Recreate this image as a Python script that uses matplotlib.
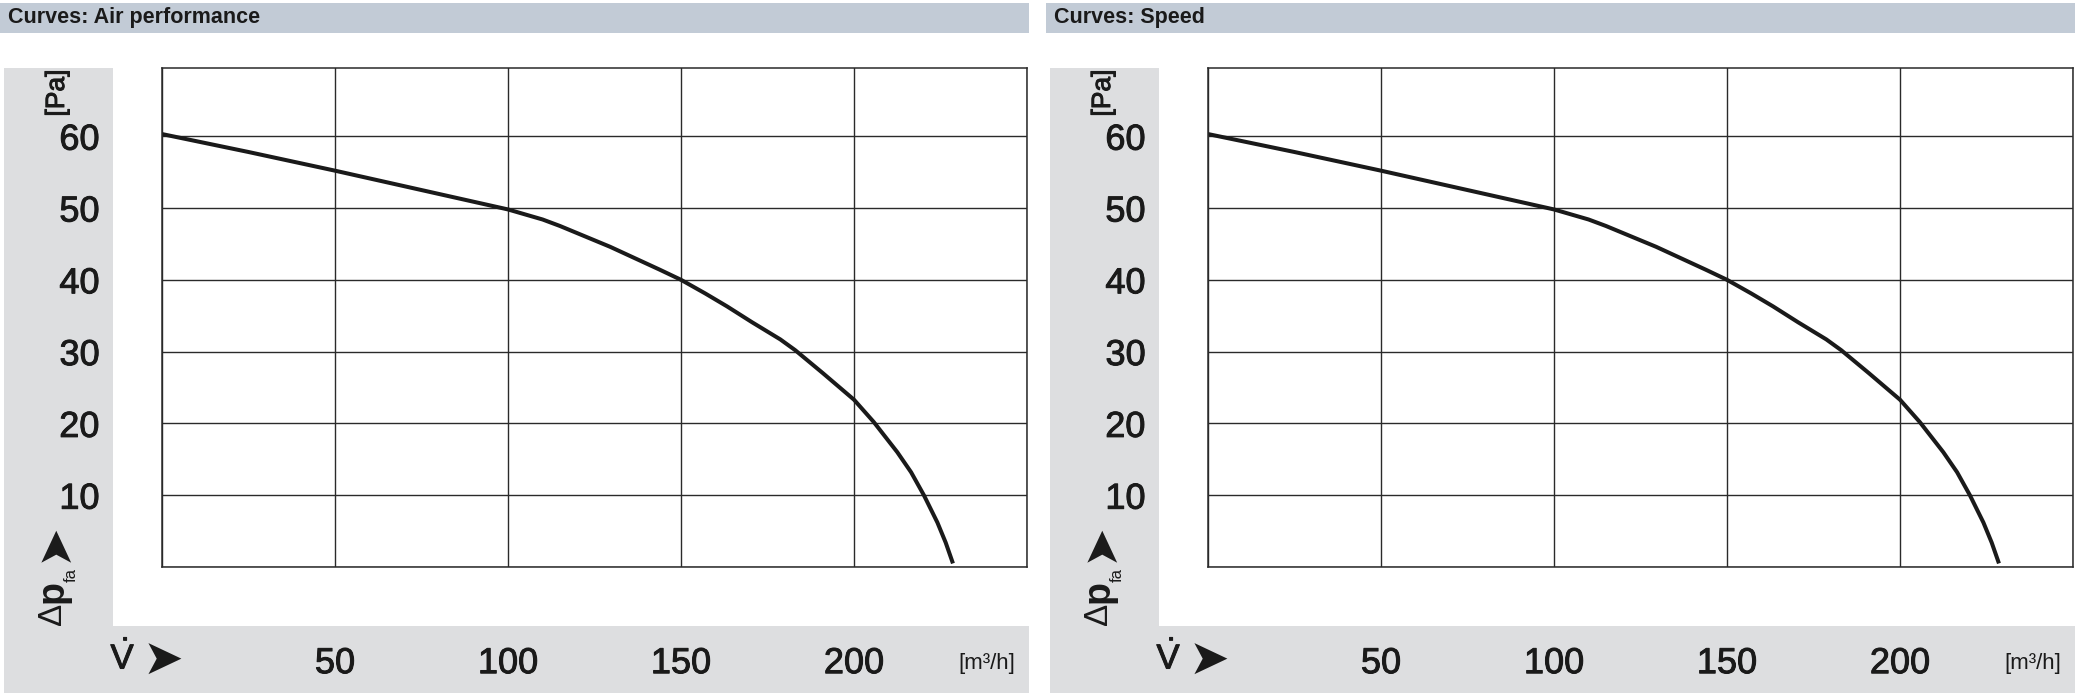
import matplotlib.pyplot as plt
from matplotlib.patches import Rectangle
import matplotlib.patheffects as pe

W, H = 2082, 698

# air performance curve (flow in m3/h, pressure in Pa)
flow = [0, 25, 50, 75, 100, 110, 115, 129.5, 143.9, 150, 157, 163.3, 170.5, 178.7,
        183, 191, 200, 205.7, 212.5, 216.5, 220.2, 224.1, 226.5, 228.6]
pressure = [60.3, 57.8, 55.2, 52.5, 49.8, 48.4, 47.5, 44.6, 41.4, 40.0, 38.1, 36.3, 34.1, 31.7,
            30.2, 27.0, 23.3, 20.2, 16.0, 13.2, 10.0, 6.2, 3.4, 0.5]

x_ticks = [50, 100, 150, 200]
y_ticks = [10, 20, 30, 40, 50, 60]
x_grid = [0, 50, 100, 150, 200, 250]
titles = ['Curves: Air performance', 'Curves: Speed']

BAR = '#c2cbd6'
GRAY = '#dddee0'
INK = '#1a1a1a'
plt.rcParams['font.family'] = ['Liberation Sans', 'DejaVu Sans']
plt.rcParams['mathtext.fontset'] = 'custom'
plt.rcParams['mathtext.rm'] = 'Liberation Sans'
heavy = [pe.withStroke(linewidth=0.7, foreground=INK)]


def fx(px):
    return px / W


def fy(py):
    return 1 - py / H


def rect(fig, x0, y0, x1, y1, color):
    fig.patches.append(Rectangle((fx(x0), fy(y1)), fx(x1) - fx(x0), fy(y0) - fy(y1),
                                 transform=fig.transFigure, color=color, zorder=-5, lw=0))


def label(fig, x, y, s, size, **kw):
    kw.setdefault('ha', 'center')
    kw.setdefault('va', 'center')
    return fig.text(fx(x), fy(y), s, fontsize=size, color=INK, **kw)


def panel(fig, dx, title):
    # title bar
    rect(fig, dx + 0, 3, dx + 1029, 33, BAR)
    label(fig, dx + 8, 18, title, 15.5, fontweight='bold', ha='left')

    # grey L shaped band behind the scales
    rect(fig, dx + 4, 68, dx + 113, 693, GRAY)
    rect(fig, dx + 4, 626, dx + 1029, 693, GRAY)

    ax = fig.add_axes([fx(dx + 162), fy(567), fx(865), 499 / H])
    ax.plot(flow, pressure, color=INK, lw=2.9, solid_capstyle='butt', solid_joinstyle='round')
    ax.set_xlim(0, 250)
    ax.set_ylim(0, 69.5)
    ax.set_xticks(x_grid)
    ax.set_yticks([0] + y_ticks)
    ax.grid(True, color='#2a2a2a', lw=1.0)
    ax.set_axisbelow(True)
    for s in ax.spines.values():
        s.set_color('#2a2a2a')
        s.set_linewidth(1.1)
    ax.tick_params(length=0, labelsize=26, colors=INK)
    ax.tick_params(axis='y', pad=45)
    ax.tick_params(axis='x', pad=57)
    ax.set_xticklabels([''] + [str(v) for v in x_ticks] + [''])
    ax.set_yticklabels([''] + [str(v) for v in y_ticks])
    for t in ax.get_xticklabels() + ax.get_yticklabels():
        t.set_path_effects(heavy)

    # axis captions
    label(fig, dx + 57, 93, '[Pa]', 19, rotation=90).set_path_effects(heavy)
    label(fig, dx + 53, 614, 'Δ', 24, rotation=90)
    label(fig, dx + 53, 592, 'p', 27, rotation=90, fontweight='bold')
    label(fig, dx + 71, 575, 'fa', 12, rotation=90)
    label(fig, dx + 54, 542, '➤', 34, rotation=90, family='DejaVu Sans')
    label(fig, dx + 123, 658, r'$\dot{\mathrm{V}}$', 25).set_path_effects(heavy)
    label(fig, dx + 163, 661, '➤', 35, family='DejaVu Sans')
    label(fig, dx + 987, 663, '[m³/h]', 16)


fig = plt.figure(figsize=(W / 100, H / 100), dpi=100)
fig.patch.set_facecolor('white')
for i, t in enumerate(titles):
    panel(fig, i * 1046, t)
fig.savefig('out.png', dpi=100)
